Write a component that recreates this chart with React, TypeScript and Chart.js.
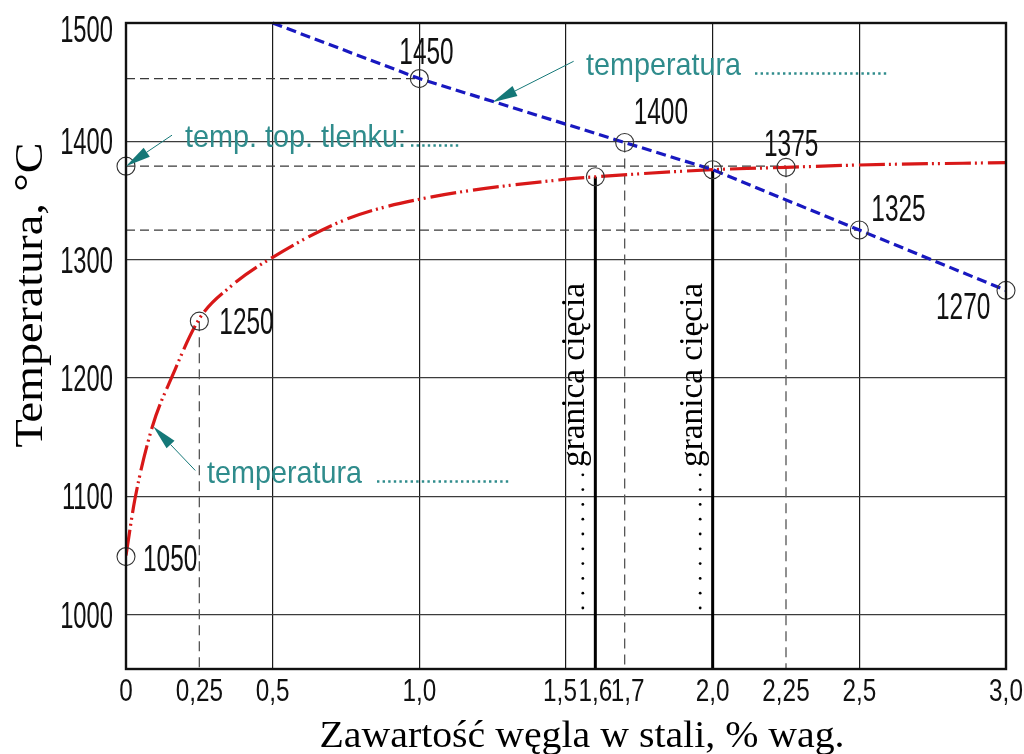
import React, { useEffect, useRef } from "react";
import { Chart, registerables } from "chart.js";

Chart.register(...registerables);

// ---------- data ----------
const carbonX = [0, 0.03, 0.09, 0.155, 0.25, 0.36, 0.5, 0.75, 1.0, 1.5, 1.6, 2.0, 2.25, 2.5, 3.0];
const oxideMeltTemp = [1050, 1097, 1159, 1200, 1250, 1278, 1302, 1334, 1351, 1368, 1370, 1376, 1378, 1380, 1382];

const steelX = [0.5, 1.0, 1.7, 2.0, 2.5, 3.0];
const steelTemp = [1500, 1453, 1399, 1376, 1325, 1274];

const markerX = [0, 0, 0.25, 1.0, 1.6, 1.7, 2.0, 2.25, 2.5, 3.0];
const markerTemp = [1049, 1379, 1248, 1453, 1370, 1399, 1376, 1378, 1325, 1274];

const pointLabelText = ["1050", "1250", "1450", "1400", "1375", "1325", "1270"];
const pointLabelMarker = [0, 2, 3, 5, 7, 8, 9];

const refHTemp = [1453, 1379, 1325];
const refHEndX = [1.0, 2.25, 2.5];
const refVX = [0.25, 1.7, 2.25];
const refVTopTemp = [1248, 1399, 1378];
const cutX = [1.6, 2.0];
const cutTopTemp = [1370, 1376];

const xTickValues = [0, 0.25, 0.5, 1.0, 1.5, 1.6, 1.7, 2.0, 2.25, 2.5, 3.0];
const xTickLabels = ["0", "0,25", "0,5", "1,0", "1,5", "1,6", "1,7", "2,0", "2,25", "2,5", "3,0"];
const xGridValues = [0, 0.5, 1.0, 1.5, 2.0, 2.5, 3.0];
const yTickValues = [1000, 1100, 1200, 1300, 1400, 1500];
const yTickLabels = ["1000", "1100", "1200", "1300", "1400", "1500"];

const arrowTipX = [0, 1.25, 0.093];
const arrowTipTemp = [1379, 1433, 1159];

const X_MIN = 0;
const X_MAX = 3;
const Y_MIN = 954;
const Y_MAX = 1500;

// ---------- layout / style ----------
const SANS = '"Liberation Sans", Arial, sans-serif';
const SERIF = '"Liberation Serif", "Times New Roman", serif';
const TEAL = "#2f8c8c";
const TEAL_DARK = "#157878";
const RED = "#d81818";
const BLUE = "#1818c0";

const pointLabelOffset = [
  [17, 14],
  [20, 13],
  [-20, -15],
  [9, -18],
  [-22, -11],
  [12, -9],
  [-70, 29],
];
const xLabelShift: Record<string, number> = { "1,5": -6, "1,7": 3 };
const arrowTail = [
  [46, -31],
  [81, -41],
  [42, 44],
];

type TOpts = {
  size: number;
  family: string;
  color?: string;
  align?: CanvasTextAlign;
  baseline?: CanvasTextBaseline;
  rot?: number;
  sx?: number;
  width?: number;
};

function drawText(ctx: CanvasRenderingContext2D, s: string, x: number, y: number, o: TOpts) {
  ctx.save();
  ctx.font = `normal ${o.size}px ${o.family}`;
  ctx.fillStyle = o.color || "#000";
  ctx.textAlign = o.align || "left";
  ctx.textBaseline = o.baseline || "alphabetic";
  ctx.translate(x, y);
  if (o.rot) ctx.rotate(o.rot);
  let sx = o.sx || 1;
  if (o.width) sx = o.width / ctx.measureText(s).width;
  ctx.scale(sx, 1);
  ctx.fillText(s, 0, 0);
  ctx.restore();
}

function dottedLine(ctx: CanvasRenderingContext2D, x0: number, x1: number, y: number) {
  ctx.save();
  ctx.strokeStyle = TEAL;
  ctx.lineWidth = 2.6;
  ctx.setLineDash([2.4, 3.2]);
  ctx.beginPath();
  ctx.moveTo(x0, y);
  ctx.lineTo(x1, y);
  ctx.stroke();
  ctx.restore();
}

function arrow(ctx: CanvasRenderingContext2D, tx: number, ty: number, sx: number, sy: number) {
  const dx = tx - sx;
  const dy = ty - sy;
  const len = Math.hypot(dx, dy);
  const ux = dx / len;
  const uy = dy / len;
  const headLen = 25;
  const half = 5.5;
  const bx = tx - ux * headLen;
  const by = ty - uy * headLen;
  ctx.save();
  ctx.strokeStyle = TEAL_DARK;
  ctx.lineWidth = 1;
  ctx.beginPath();
  ctx.moveTo(sx, sy);
  ctx.lineTo(bx, by);
  ctx.stroke();
  ctx.fillStyle = TEAL_DARK;
  ctx.beginPath();
  ctx.moveTo(tx, ty);
  ctx.lineTo(bx - uy * half, by + ux * half);
  ctx.lineTo(bx + uy * half, by - ux * half);
  ctx.closePath();
  ctx.fill();
  ctx.restore();
}

const overlayPlugin = {
  id: "overlay",
  afterDraw(chart: any) {
    const ctx: CanvasRenderingContext2D = chart.ctx;
    const xs = chart.scales.x;
    const ys = chart.scales.y;
    const a = chart.chartArea;
    const px = (v: number) => xs.getPixelForValue(v);
    const py = (v: number) => ys.getPixelForValue(v);

    // frame
    ctx.save();
    ctx.strokeStyle = "#111";
    ctx.lineWidth = 2.4;
    ctx.strokeRect(a.left, a.top, a.right - a.left, a.bottom - a.top);
    ctx.restore();

    // y tick labels
    yTickValues.forEach((v, i) => {
      const base = Math.max(py(v) + 13, a.top + 18.5);
      drawText(ctx, yTickLabels[i], a.left - 13, base, { size: 36, family: SANS, align: "right", sx: 0.66, color: "#111" });
    });
    // x tick labels
    xTickValues.forEach((v, i) => {
      const lab = xTickLabels[i];
      drawText(ctx, lab, px(v) + (xLabelShift[lab] || 0), a.bottom + 32, { size: 32, family: SANS, align: "center", sx: 0.76, color: "#111" });
    });

    // point labels
    pointLabelText.forEach((t, i) => {
      const m = pointLabelMarker[i];
      const [dx, dy] = pointLabelOffset[i];
      drawText(ctx, t, px(markerX[m]) + dx, py(markerTemp[m]) + dy, { size: 37, family: SANS, sx: 0.66, color: "#111" });
    });

    // teal annotations
    drawText(ctx, "temp. top. tlenku:", 185, 147, { size: 32, family: SANS, color: TEAL, width: 221 });
    dottedLine(ctx, 411, 459, 145.5);
    drawText(ctx, "temperatura", 586, 75, { size: 32, family: SANS, color: TEAL, width: 155 });
    dottedLine(ctx, 755, 889, 73.5);
    drawText(ctx, "temperatura", 207, 483, { size: 32, family: SANS, color: TEAL, width: 155 });
    dottedLine(ctx, 377, 510, 481.5);

    arrowTipX.forEach((v, i) => {
      const tx = px(v);
      const ty = py(arrowTipTemp[i]);
      arrow(ctx, tx, ty, tx + arrowTail[i][0], ty + arrowTail[i][1]);
    });

    // "granica cięcia" labels
    cutX.forEach((v) => {
      const xb = px(v) - 11;
      drawText(ctx, "granica cięcia", xb, 467, { size: 33, family: SERIF, rot: -Math.PI / 2, width: 184, color: "#000" });
      ctx.save();
      ctx.fillStyle = "#000";
      for (let k = 0; k < 10; k++) {
        const y = 608 - k * 14.8;
        ctx.beginPath();
        ctx.arc(xb - 1.5, y, 1.4, 0, Math.PI * 2);
        ctx.fill();
      }
      ctx.restore();
    });

    // axis titles
    drawText(ctx, "Zawartość węgla w stali, % wag.", 582, 747, { size: 38, family: SERIF, align: "center", width: 525, color: "#000" });
    drawText(ctx, "Temperatura, °C", 42, 295, { size: 40, family: SERIF, align: "center", rot: -Math.PI / 2, width: 305, color: "#000" });
  },
};

const pts = (xs: number[], ys: number[]) => xs.map((x, i) => ({ x, y: ys[i] }));

function buildConfig(): any {
  const lineBase = { type: "line", showLine: true, pointRadius: 0, fill: false, tension: 0 };
  const datasets: any[] = [];

  refHTemp.forEach((t, i) => {
    datasets.push({
      ...lineBase,
      data: [{ x: X_MIN, y: t }, { x: refHEndX[i], y: t }],
      borderColor: "#3a3a3a",
      borderWidth: 1.2,
      borderDash: [9, 5],
      order: 5,
    });
  });
  refVX.forEach((x, i) => {
    datasets.push({
      ...lineBase,
      data: [{ x, y: refVTopTemp[i] }, { x, y: Y_MIN }],
      borderColor: "#555",
      borderWidth: 1.3,
      borderDash: [10, 6],
      order: 5,
    });
  });
  cutX.forEach((x, i) => {
    datasets.push({
      ...lineBase,
      data: [{ x, y: cutTopTemp[i] }, { x, y: Y_MIN }],
      borderColor: "#000",
      borderWidth: 3,
      order: 4,
    });
  });
  datasets.push({
    ...lineBase,
    label: "temperatura topnienia tlenku",
    data: pts(carbonX, oxideMeltTemp),
    borderColor: RED,
    borderWidth: 3.2,
    borderDash: [26, 4, 2, 4, 2, 5],
    cubicInterpolationMode: "monotone",
    order: 3,
  });
  datasets.push({
    ...lineBase,
    label: "temperatura stali",
    data: pts(steelX, steelTemp),
    borderColor: BLUE,
    borderWidth: 3.2,
    borderDash: [10, 5],
    clip: 6,
    order: 2,
  });
  datasets.push({
    type: "scatter",
    label: "punkty",
    data: pts(markerX, markerTemp),
    showLine: false,
    pointRadius: 9,
    pointHoverRadius: 9,
    pointBorderColor: "#333",
    pointBorderWidth: 1.1,
    pointBackgroundColor: "rgba(0,0,0,0)",
    clip: false,
    order: 1,
  });

  return {
    type: "scatter",
    data: { datasets },
    plugins: [overlayPlugin],
    options: {
      responsive: false,
      maintainAspectRatio: false,
      devicePixelRatio: 1,
      animation: false,
      events: [],
      layout: { padding: { left: 126, right: 18, top: 23, bottom: 85 } },
      plugins: { legend: { display: false }, tooltip: { enabled: false }, title: { display: false } },
      scales: {
        x: {
          type: "linear",
          min: X_MIN,
          max: X_MAX,
          afterBuildTicks: (s: any) => {
            s.ticks = xGridValues.map((v) => ({ value: v }));
          },
          afterFit: (s: any) => {
            s.height = 0;
          },
          ticks: { display: false },
          grid: { color: "#1a1a1a", lineWidth: 1.2, drawTicks: false },
          border: { display: false },
        },
        y: {
          type: "linear",
          min: Y_MIN,
          max: Y_MAX,
          afterBuildTicks: (s: any) => {
            s.ticks = yTickValues.map((v) => ({ value: v }));
          },
          afterFit: (s: any) => {
            s.width = 0;
          },
          ticks: { display: false },
          grid: { color: "#3c3c3c", lineWidth: 1.3, drawTicks: false },
          border: { display: false },
        },
      },
    },
  };
}

export default function App() {
  const ref = useRef<HTMLCanvasElement>(null);
  useEffect(() => {
    if (!ref.current) return;
    const chart = new Chart(ref.current, buildConfig());
    return () => chart.destroy();
  }, []);
  return (
    <div style={{ position: "absolute", left: 0, top: 0, width: 1024, height: 754, background: "#fff" }}>
      <canvas ref={ref} width={1024} height={754} style={{ display: "block", width: 1024, height: 754 }} />
    </div>
  );
}
